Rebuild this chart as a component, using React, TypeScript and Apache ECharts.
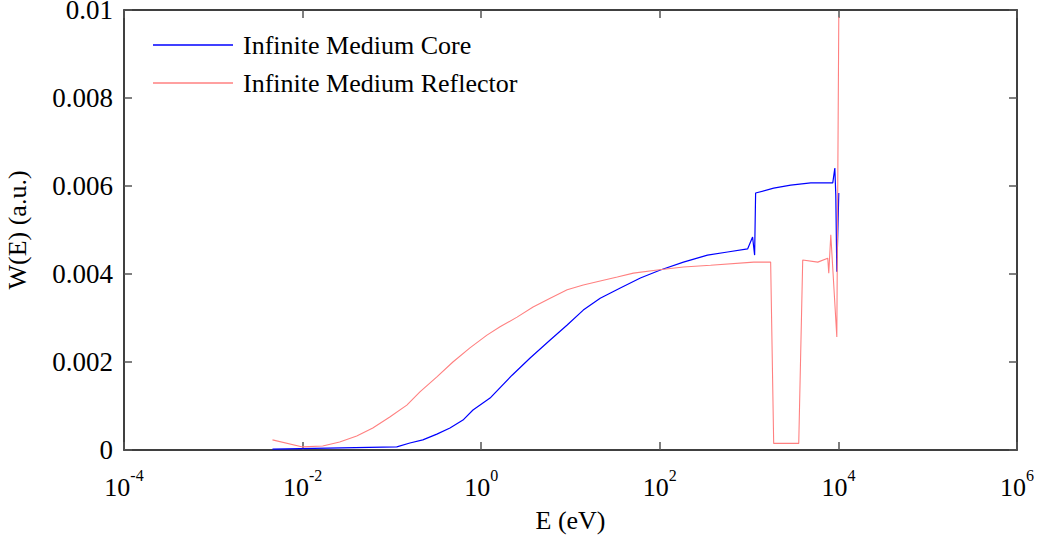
import React, { useEffect, useRef } from "react";
import * as echarts from "echarts";

// Energy (eV) and W(E) values
const coreE = [0.0046, 0.1135, 0.159, 0.222, 0.319, 0.447, 0.625, 0.809, 1.256, 2.218, 3.53, 5.92, 9.18, 13.9, 21.5, 36.1, 60.6, 101.6, 184, 342, 574, 962, 1094, 1153, 1183, 1885, 2925, 4900, 8650, 9120, 9350, 9600, 10100];
const coreW = [0.00002, 0.00007, 0.00016, 0.00023, 0.00036, 0.0005, 0.00068, 0.00091, 0.00118, 0.0017, 0.00209, 0.0025, 0.00284, 0.00318, 0.00345, 0.00368, 0.00391, 0.00409, 0.00427, 0.00443, 0.0045, 0.00457, 0.00484, 0.00443, 0.00584, 0.00595, 0.00602, 0.00607, 0.00607, 0.00641, 0.0058, 0.00405, 0.00584];

const reflE = [0.0046, 0.01, 0.0168, 0.026, 0.0404, 0.0611, 0.0947, 0.147, 0.206, 0.319, 0.482, 0.748, 1.16, 1.625, 2.52, 3.81, 5.92, 9.18, 13.9, 21.5, 33.4, 50.6, 94, 184, 370, 1125, 1743, 1885, 3597, 3985, 5875, 7600, 7800, 8220, 9600, 10100];
const reflW = [0.00023, 0.00007, 0.00009, 0.00018, 0.00032, 0.0005, 0.00075, 0.00102, 0.00132, 0.00166, 0.002, 0.00232, 0.00261, 0.0028, 0.00302, 0.00325, 0.00345, 0.00364, 0.00375, 0.00384, 0.00393, 0.00402, 0.00409, 0.00416, 0.0042, 0.00427, 0.00427, 0.00015, 0.00015, 0.00432, 0.00427, 0.00436, 0.00402, 0.00489, 0.00257, 0.00984];

const seriesNames = ["Infinite Medium Core", "Infinite Medium Reflector"];
const seriesColors = ["#0000ff", "#ff8080"];
const yTicks = [0, 0.002, 0.004, 0.006, 0.008, 0.01];

const FONT = "'Liberation Serif', 'Times New Roman', serif";

export default function App() {
  const ref = useRef<HTMLDivElement>(null);
  useEffect(() => {
    const chart = echarts.init(ref.current!, null, { renderer: "svg" });
    const tickStyle = { show: true, inside: true, length: 8, lineStyle: { color: "#555", width: 1.5 } };
    const axisLine = { show: true, onZero: false, lineStyle: { color: "#000", width: 1.5 } };
    chart.setOption({
      animation: false,
      backgroundColor: "#fff",
      textStyle: { fontFamily: FONT, color: "#000" },
      grid: { left: 124, right: 22, top: 10, bottom: 92, containLabel: false, outerBoundsMode: "none" },
      legend: {
        orient: "vertical",
        left: 148,
        top: 27,
        icon: "rect",
        itemWidth: 80,
        itemHeight: 1.5,
        itemGap: 12,
        data: seriesNames,
        textStyle: { fontFamily: FONT, fontSize: 26, color: "#000", padding: [0, 0, 0, 5] },
      },
      xAxis: [
        {
          type: "log",
          logBase: 10,
          min: 1e-4,
          max: 1e6,
          interval: 2,
          name: "E (eV)",
          nameLocation: "middle",
          nameGap: 57,
          nameTextStyle: { fontFamily: FONT, fontSize: 26, color: "#000" },
          axisLine,
          axisTick: tickStyle,
          splitLine: { show: false },
          minorTick: { show: false },
          axisLabel: {
            margin: 17,
            color: "#000",
            fontFamily: FONT,
            formatter: (v: number) => `{b|10}{e|${Math.round(Math.log10(v))}}`,
            rich: {
              b: { fontFamily: FONT, fontSize: 26, color: "#000" },
              e: { fontFamily: FONT, fontSize: 16, color: "#000", padding: [0, 0, 24, 0] },
            },
          },
        },
        {
          type: "log",
          logBase: 10,
          min: 1e-4,
          max: 1e6,
          interval: 2,
          position: "top",
          axisLine,
          axisTick: tickStyle,
          axisLabel: { show: false },
          splitLine: { show: false },
        },
      ],
      yAxis: [
        {
          type: "value",
          min: 0,
          max: 0.01,
          interval: 0.002,
          name: "W(E) (a.u.)",
          nameLocation: "middle",
          nameGap: 94,
          nameTextStyle: { fontFamily: FONT, fontSize: 26, color: "#000" },
          axisLine,
          axisTick: tickStyle,
          splitLine: { show: false },
          axisLabel: {
            margin: 11,
            fontFamily: FONT,
            fontSize: 27,
            lineHeight: 20,
            padding: [4, 0, 0, 0],
            color: "#000",
            formatter: (v: number) => {
              const t = yTicks.find((x) => Math.abs(x - v) < 1e-9);
              return t === undefined ? "" : String(+t.toFixed(3));
            },
          },
        },
        {
          type: "value",
          min: 0,
          max: 0.01,
          interval: 0.002,
          position: "right",
          axisLine,
          axisTick: tickStyle,
          axisLabel: { show: false },
          splitLine: { show: false },
        },
      ],
      series: [
        {
          name: seriesNames[0],
          type: "line",
          symbol: "none",
          lineStyle: { color: seriesColors[0], width: 1.2 },
          itemStyle: { color: seriesColors[0] },
          data: coreE.map((e, i) => [e, coreW[i]]),
        },
        {
          name: seriesNames[1],
          type: "line",
          symbol: "none",
          lineStyle: { color: seriesColors[1], width: 1.1 },
          itemStyle: { color: seriesColors[1] },
          data: reflE.map((e, i) => [e, reflW[i]]),
        },
      ],
    });
    return () => chart.dispose();
  }, []);
  return (
    <div
      ref={ref}
      style={{ position: "fixed", left: 0, top: 0, width: 1039, height: 542, background: "#fff" }}
    />
  );
}
